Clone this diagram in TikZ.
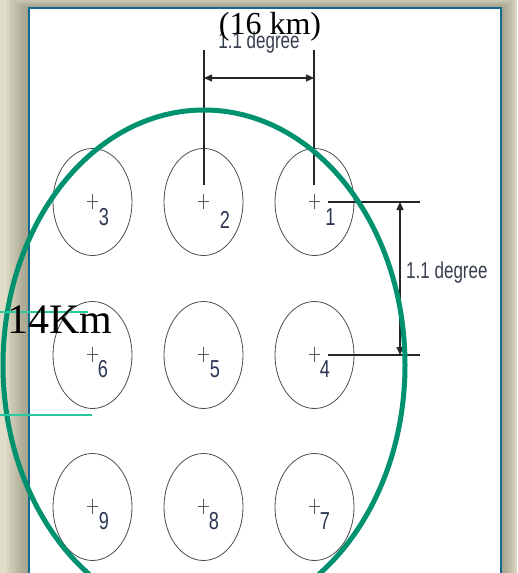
\documentclass[tikz,border=0pt]{standalone}
\usepackage{graphicx}
\usepackage{fontspec}
\setmainfont{Liberation Serif}
\newfontfamily\arialf{Liberation Sans}
\usetikzlibrary{shapes.geometric,arrows.meta}
\definecolor{bgbeige}{RGB}{224,222,200}
\definecolor{panelblue}{RGB}{20,105,145}
\definecolor{ringgreen}{RGB}{0,146,110}
\definecolor{tealline}{RGB}{40,200,160}
\definecolor{lblcol}{RGB}{45,55,85}
\definecolor{dimtxtcol}{RGB}{55,62,78}
\definecolor{shadowcol}{RGB}{100,100,80}
\newcommand\squeeze[1]{\scalebox{0.74}[1]{#1}}
\begin{document}
\begin{tikzpicture}[x=1pt,y=-1pt,
  beam/.style={draw=black!70, line width=0.8pt, ellipse, minimum width=79pt, minimum height=107pt, inner sep=0pt},
  plusmark/.style={draw=black!65, line width=0.8pt},
  lbl/.style={font=\arialf\fontsize{24.5}{24.5}\selectfont, text=lblcol, inner sep=0pt},
  dimline/.style={draw=black!85, line width=1.1pt},
  dimarrow/.style={draw=black!85, line width=1.1pt, {Triangle[length=8pt,width=7pt]}-{Triangle[length=8pt,width=7pt]}},
  dimtxt/.style={font=\arialf\fontsize{23}{23}\selectfont, text=dimtxtcol, inner sep=0pt},
  bigtxt/.style={inner sep=0pt, text=black}]
\useasboundingbox (0,0) rectangle (517,573);
\clip (0,0) rectangle (517,573);
% background and panel shadow
\fill[bgbeige] (0,0) rectangle (517,573);
\foreach \i in {1,...,10}
  \fill[shadowcol, opacity=0.06] (29-\i*2.2, 8-\i*1.0) rectangle (501+\i*1.6, 600);
% panel
\fill[white] (29,8) rectangle (501,600);
\draw[panelblue, line width=2.5pt] (29,600) -- (29,8) -- (501,8) -- (501,600);
% beams
\node[beam] (e1) at (314.5,202) {};
\node[beam] (e2) at (203.5,202) {};
\node[beam] (e3) at (92.5,202) {};
\node[beam] (e4) at (314.5,355) {};
\node[beam] (e5) at (203.5,355) {};
\node[beam] (e6) at (92.5,355) {};
\node[beam] (e7) at (314.5,507) {};
\node[beam] (e8) at (203.5,507) {};
\node[beam] (e9) at (92.5,507) {};
\foreach \n in {1,...,9}{
  \draw[plusmark] ([shift={(-6,-1)}]e\n.center) -- ++(11,0);
  \draw[plusmark] ([shift={(-0.5,-8.5)}]e\n.center) -- ++(0,15);
}
% labels
\node[lbl] (n1) at ([shift={(16,15)}]e1.center) {\squeeze{1}};
\node[lbl] (n2) at ([shift={(21.5,18)}]e2.center) {\squeeze{2}};
\node[lbl] (n3) at ([shift={(11.5,15)}]e3.center) {\squeeze{3}};
\node[lbl] (n4) at ([shift={(10.5,14)}]e4.center) {\squeeze{4}};
\node[lbl] (n5) at ([shift={(11.5,14)}]e5.center) {\squeeze{5}};
\node[lbl] (n6) at ([shift={(10.5,14)}]e6.center) {\squeeze{6}};
\node[lbl] (n7) at ([shift={(10.5,14)}]e7.center) {\squeeze{7}};
\node[lbl] (n8) at ([shift={(10.5,14)}]e8.center) {\squeeze{8}};
\node[lbl] (n9) at ([shift={(11.5,14)}]e9.center) {\squeeze{9}};
% top dimension
\coordinate (t2) at (204,50);
\coordinate (t1) at (314,50);
\coordinate (a2) at (204,78);
\coordinate (a1) at (314,78);
\draw[dimline] (t2) -- ([shift={(0.5,-17)}]e2.center);
\draw[dimline] (t1) -- ([shift={(-0.5,-17)}]e1.center);
\draw[dimarrow] (a2) -- (a1);
% right dimension
\coordinate (r1) at (420,202);
\coordinate (r4) at (420,355);
\coordinate (v1) at (400,202);
\coordinate (v4) at (400,355);
\draw[dimline] ([xshift=13pt]e1.center) -- (r1);
\draw[dimline] ([xshift=13pt]e4.center) -- (r4);
\draw[dimarrow] (v1) -- (v4);
% dimension texts
\node[dimtxt, anchor=base] (topdeg) at (259,48) {\squeeze{1.1 degree}};
\node[dimtxt, anchor=base west] (rdeg) at (406,278) {\squeeze{1.1 degree}};
\node[bigtxt, font=\fontsize{32}{32}\selectfont, anchor=base] (km16) at (270,34) {(16 km)};
% green footprint
\draw[ringgreen, line width=5pt] (204,365) ellipse [x radius=201, y radius=255];
% teal lines
\coordinate (c1a) at (0,312);
\coordinate (c1b) at (88,312);
\coordinate (c2a) at (0,415);
\coordinate (c2b) at (92,415);
\draw[tealline, line width=2pt] (c1a) -- (c1b);
\draw[tealline, line width=2pt] (c2a) -- (c2b);
\node[bigtxt, font=\fontsize{42}{42}\selectfont, anchor=base west] (km14) at (7,333) {14Km};
\end{tikzpicture}
\end{document}
